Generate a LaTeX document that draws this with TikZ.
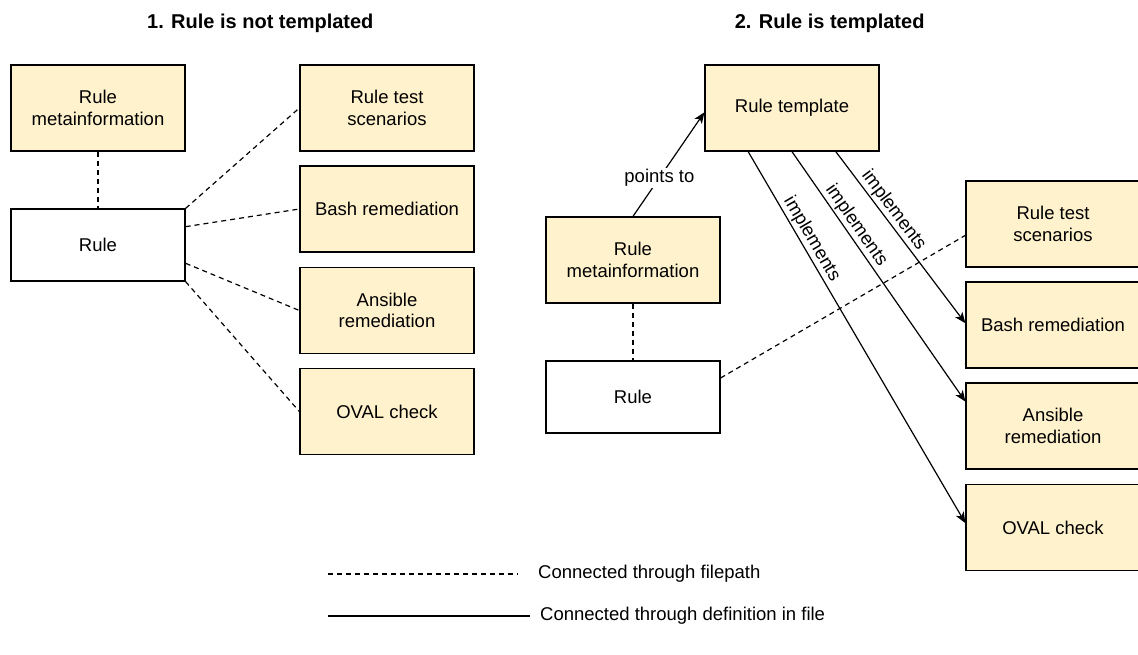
\documentclass[tikz,border=0pt]{standalone}
\usepackage{fontspec}
\setmainfont{Liberation Sans}
\usetikzlibrary{arrows.meta,calc}
\definecolor{boxfill}{HTML}{FFF2CC}
\tikzset{
  box/.style={draw=black, line width=1.3pt, minimum width=174pt, minimum height=86pt,
    inner sep=0pt, align=center, font=\fontsize{18.5}{21.5}\selectfont},
  filledbox/.style={box, fill=boxfill},
  rulebox/.style={box, fill=white, minimum height=72pt},
  fpath/.style={line width=1.2pt, dash pattern=on 5pt off 4pt},
  defn/.style={line width=1.2pt, -{Stealth[length=11pt,width=9pt,inset=3pt]}},
  lbl/.style={font=\fontsize{18.5}{21.5}\selectfont, inner sep=1.5pt},
  ttl/.style={font=\bfseries\fontsize{20}{24}\selectfont, anchor=base east},
  legendtext/.style={font=\fontsize{18.5}{21.5}\selectfont, anchor=west, inner sep=0pt},
}
\begin{document}
\begin{tikzpicture}[x=1pt,y=-1pt]
\useasboundingbox (0,0) rectangle (1138,655);
\fill[white] (0,0) rectangle (1138,655);

% titles
\node[ttl] (t1) at (377,29) {1. Rule is not templated};
\node[ttl] (t2) at (928,29) {2. Rule is templated};

% ---- 1. rule is not templated ----
\node[filledbox] (meta1) at (98,108) {Rule\\metainformation};
\node[rulebox]   (rule1) at (98,245) {Rule};
\node[filledbox] (rts1)  at (387,108) {Rule test\\scenarios};
\node[filledbox] (bash1) at (387,209) {Bash remediation};
\node[filledbox] (ans1)  at (387,310.5) {Ansible\\remediation};
\node[filledbox] (oval1) at (387,411.5) {OVAL check};

\draw[fpath] (meta1.south) -- (rule1.north);
\draw[fpath] (rule1.north east) -- (rts1.west);
\draw[fpath] ($(rule1.north east)!0.25!(rule1.south east)$) -- (bash1.west);
\draw[fpath] ($(rule1.north east)!0.75!(rule1.south east)$) -- (ans1.west);
\draw[fpath] (rule1.south east) -- (oval1.west);

% ---- 2. rule is templated ----
\node[filledbox] (tmpl)  at (792,108) {Rule template};
\node[filledbox] (meta2) at (633,260) {Rule\\metainformation};
\node[rulebox]   (rule2) at (633,397) {Rule};
\node[filledbox] (rts2)  at (1053,224) {Rule test\\scenarios};
\node[filledbox] (bash2) at (1053,325) {Bash remediation};
\node[filledbox] (ans2)  at (1053,426) {Ansible\\remediation};
\node[filledbox] (oval2) at (1053,527.5) {OVAL check};

\draw[fpath] (meta2.south) -- (rule2.north);
\draw[fpath] ($(rule2.north east)!0.24!(rule2.south east)$) -- ($(rts2.north west)!0.63!(rts2.south west)$);

\draw[defn] (meta2.north) -- node[lbl, pos=0.37, fill=white] {points to}
  ($(tmpl.north west)!0.55!(tmpl.south west)$);

\draw[defn] ($(tmpl.south west)!0.25!(tmpl.south east)$) --
  node[lbl, sloped, above, pos=0.25] {implements}
  ($(oval2.north west)!0.45!(oval2.south west)$);
\draw[defn] ($(tmpl.south west)!0.5!(tmpl.south east)$) --
  node[lbl, sloped, above, pos=0.32] {implements}
  ($(ans2.north west)!0.22!(ans2.south west)$);
\draw[defn] ($(tmpl.south west)!0.75!(tmpl.south east)$) --
  node[lbl, sloped, above, pos=0.38] {implements}
  ($(bash2.north west)!0.48!(bash2.south west)$);

% ---- legend ----
\coordinate (la1) at (328,574);
\coordinate (lb1) at (518,574);
\node[legendtext] (lt1) at (538,574) {Connected through filepath};
\draw[fpath] (la1) -- (lb1);

\coordinate (la2) at (328,616);
\coordinate (lb2) at (530,616);
\node[legendtext] (lt2) at (540,616) {Connected through definition in file};
\draw[line width=1.2pt] (la2) -- (lb2);
\end{tikzpicture}
\end{document}
